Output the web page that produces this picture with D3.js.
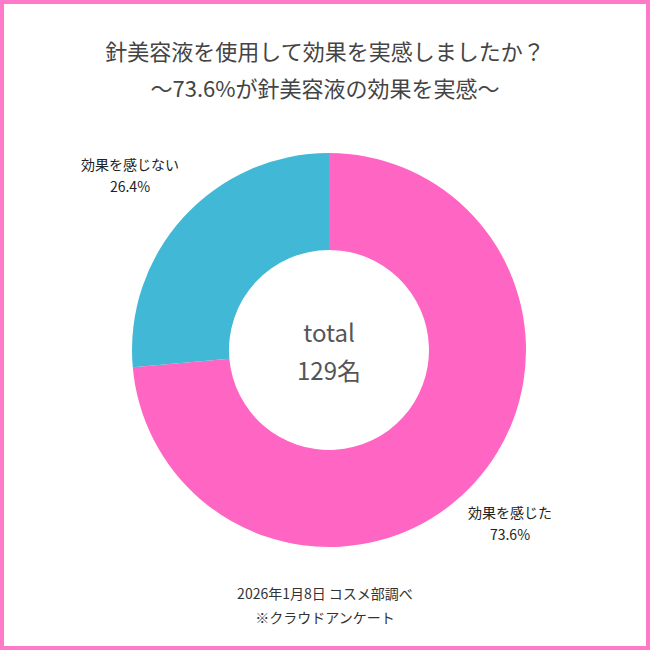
<!DOCTYPE html><html><head><meta charset="utf-8">
<script src="https://cdn.jsdelivr.net/npm/d3@7"></script>
<style>body{margin:0;background:#fff}</style></head><body>
<svg id="c" width="650" height="650"></svg>
<script>
const categories=["効果を感じた","効果を感じない"];
const values=[73.6,26.4];
const colors=["#ff66c4","#40b8d6"];
const svg=d3.select("#c");
const F="'Noto Sans CJK JP','Noto Sans',sans-serif";
svg.append("rect").attr("x",2).attr("y",2).attr("width",646).attr("height",646).attr("fill","#fff").attr("stroke","#ff7ac8").attr("stroke-width",4);
svg.append("text").attr("x",325).attr("y",60).attr("text-anchor","middle").attr("font-family",F).attr("font-size",22).attr("fill","#444").text("針美容液を使用して効果を実感しましたか？");
svg.append("text").attr("x",325).attr("y",97).attr("text-anchor","middle").attr("font-family",F).attr("font-size",22).attr("fill","#444").text("〜73.6%が針美容液の効果を実感〜");
const cx=329,cy=350;
const pie=d3.pie().sort(null)(values);
const arc=d3.arc().innerRadius(100).outerRadius(197);
const g=svg.append("g").attr("transform",`translate(${cx},${cy})`);
g.selectAll("path").data(pie).join("path").attr("d",arc).attr("fill",(d,i)=>colors[i]);
g.append("text").attr("y",-8).attr("text-anchor","middle").attr("font-family",F).attr("font-size",24).attr("fill","#555").text("total");
g.append("text").attr("y",30).attr("text-anchor","middle").attr("font-family",F).attr("font-size",24).attr("fill","#555").text("129名");
const labs=[[510,518],[130,170]];
labs.forEach((p,i)=>{
 const t=svg.append("text").attr("text-anchor","middle").attr("font-family",F).attr("font-size",14).attr("fill","#222");
 t.append("tspan").attr("x",p[0]).attr("y",p[1]).text(categories[i]);
 t.append("tspan").attr("x",p[0]).attr("y",p[1]+22).text(values[i].toFixed(1)+"%");
});
svg.append("text").attr("x",325).attr("y",599).attr("text-anchor","middle").attr("font-family",F).attr("font-size",14).attr("fill","#333").text("2026年1月8日 コスメ部調べ");
svg.append("text").attr("x",325).attr("y",623).attr("text-anchor","middle").attr("font-family",F).attr("font-size",14).attr("fill","#333").text("※クラウドアンケート");
</script></body></html>
